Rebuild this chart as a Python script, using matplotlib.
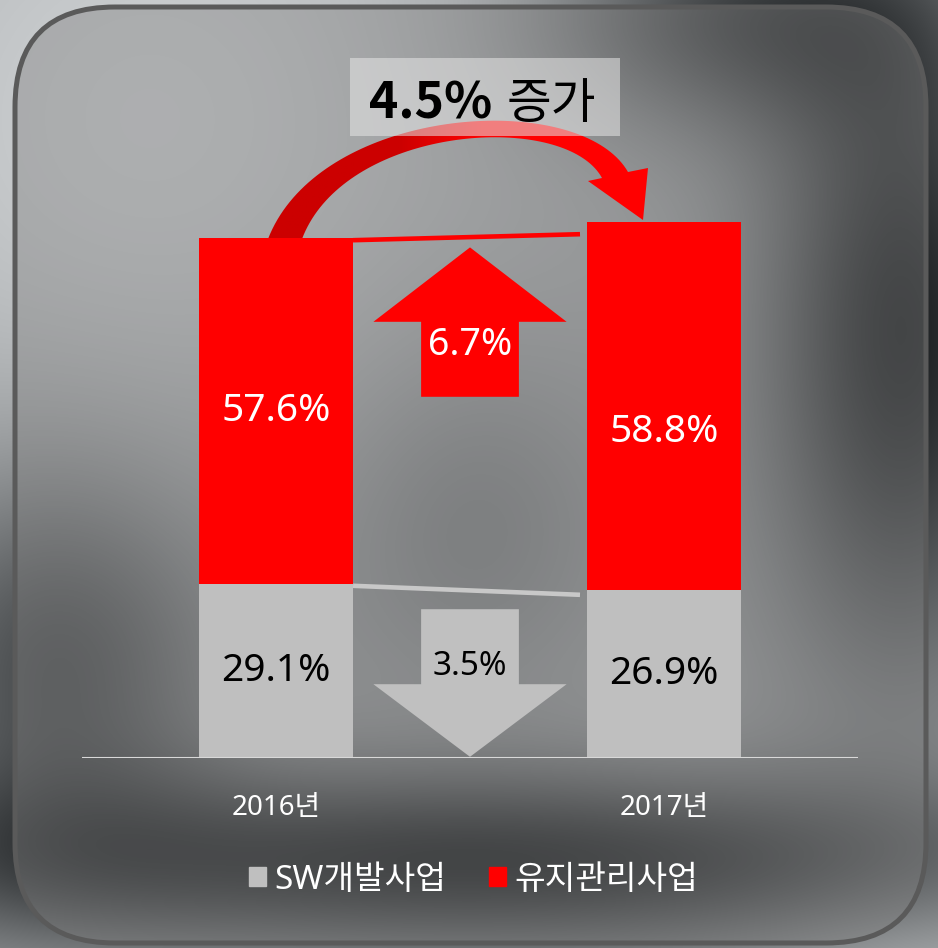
import numpy as np
import matplotlib
matplotlib.use("Agg")
import matplotlib.pyplot as plt
from matplotlib.patches import FancyBboxPatch, Patch, PathPatch, Polygon, Rectangle
from matplotlib.path import Path

plt.rcParams["font.family"] = ["Noto Sans", "Noto Sans CJK KR", "DejaVu Sans"]

# data
years = ["2016년", "2017년"]
series_names = ["SW개발사업", "유지관리사업"]
sw_share = [29.1, 26.9]      # labelled share, SW개발사업
mt_share = [57.6, 58.8]      # labelled share, 유지관리사업
sw_height = [29.0, 28.0]     # bar heights as drawn in the picture
mt_height = [57.6, 61.4]
sw_change = 3.5              # 감소
mt_change = 6.7              # 증가
total_change = 4.5

GRAY = "#bfbfbf"
RED = "#ff0000"
W, H = 938, 948

fig = plt.figure(figsize=(W / 100, H / 100), dpi=100)

# ---- blurred photo background, in pixel coordinates ----
bg = fig.add_axes([0, 0, 1, 1])
bg.set_xlim(0, W)
bg.set_ylim(H, 0)
bg.axis("off")

yy, xx = np.mgrid[0:H, 0:W].astype(float)


def blob(cx, cy, sx, sy, amp):
    return amp * np.exp(-((xx - cx) ** 2 / (2 * sx ** 2) + (yy - cy) ** 2 / (2 * sy ** 2)))


tone = (150
        + blob(150, 120, 260, 260, 25)
        + blob(900, 330, 100, 240, -80)
        + blob(740, 20, 140, 80, -55)
        + blob(470, 860, 430, 65, -80)
        + blob(60, 660, 120, 140, -55)
        + blob(470, 520, 110, 130, -25)
        + blob(930, 930, 120, 110, 15))
under = np.clip((tone - 0.4 * 128) / 0.6, 0, 255)
rgb = np.clip(np.stack([under - 3, under, under + 2], axis=-1) / 255, 0, 1)
bg.imshow(rgb, extent=(0, W, H, 0), aspect="auto", interpolation="bilinear", zorder=0)
bg.add_patch(FancyBboxPatch((15, 7), 911, 936, boxstyle="round,pad=0,rounding_size=100",
                            fc=(0.5, 0.5, 0.5, 0.4), ec="#5a5a5a", lw=3.6, zorder=1))


# curved arrow from 2016 to 2017
def bezier(p0, p1, p2, p3, n=80):
    t = np.linspace(0, 1, n)[:, None]
    p0, p1, p2, p3 = map(np.asarray, (p0, p1, p2, p3))
    return ((1 - t) ** 3) * p0 + 3 * ((1 - t) ** 2) * t * p1 + 3 * (1 - t) * t ** 2 * p2 + t ** 3 * p3


outer = bezier((268, 239), (320, 105), (580, 88), (628, 172))
inner = bezier((302, 239), (345, 125), (565, 110), (602, 178))
head = np.array([(648, 168), (643, 220), (588, 181)])
verts = np.vstack([outer, head, inner[::-1], outer[:1]])
codes = [Path.MOVETO] + [Path.LINETO] * (len(verts) - 2) + [Path.CLOSEPOLY]
arc = PathPatch(Path(verts, codes), fc="none", ec="none", zorder=2)
bg.add_patch(arc)
gx = np.linspace(260, 660, 256)
shade = np.interp(gx, [400, 480], [0.80, 1.0])
grad = np.zeros((1, 256, 3))
grad[0, :, 0] = shade
gimg = bg.imshow(grad, extent=(260, 660, 250, 80), aspect="auto", zorder=2)
gimg.set_clip_path(arc)

bg.add_patch(Rectangle((350, 58), 270, 78, fc="#e6e6e6", alpha=0.55, ec="none", zorder=3))
bg.text(492, 118, f"{total_change}%", family="Noto Sans CJK KR", fontsize=36, fontweight="bold",
        ha="right", va="baseline", zorder=4)
bg.text(507, 118, "증가", family="Noto Sans CJK KR", fontsize=35, ha="left", va="baseline", zorder=4)

# ---- the bar chart ----
ax = fig.add_axes([82 / W, (H - 758) / H, 776 / W, 700 / H])
ax.set_xlim(-0.5, 1.5)
ax.set_ylim(0, 700 / 6)
ax.patch.set_alpha(0)
for s in ax.spines.values():
    s.set_visible(False)

x = np.arange(len(years))
bw = 0.397
ax.bar(x, sw_height, bw, color=GRAY, zorder=3)
ax.bar(x, mt_height, bw, bottom=sw_height, color=RED, zorder=3)
ax.axhline(0, color="#d9d9d9", lw=1.5, zorder=4)

tops = [s + m for s, m in zip(sw_height, mt_height)]
gap = 0.018
ax.plot([x[0] + bw / 2, x[1] - bw / 2 - gap], [tops[0] - 0.3, tops[0] + 0.7],
        color=RED, lw=3.3, solid_capstyle="butt", zorder=3)
ax.plot([x[0] + bw / 2, x[1] - bw / 2 - gap], [sw_height[0] - 0.3, sw_height[1] - 0.8],
        color="#c8c8c8", lw=3.3, solid_capstyle="butt", zorder=3)

red_label_nudge = [0.0, -4.4]
for i in range(len(years)):
    ax.text(x[i], sw_height[i] / 2, f"{sw_share[i]}%", fontsize=28, color="black",
            ha="center", va="center", zorder=5)
    ax.text(x[i], sw_height[i] + mt_height[i] / 2 + red_label_nudge[i], f"{mt_share[i]}%",
            fontsize=28, color="white", ha="center", va="center", zorder=5)

# up / down change arrows between the bars
cx = (x[0] + x[1]) / 2
hw, sh = 0.249, 0.126
up = [(cx - sh, 60.2), (cx + sh, 60.2), (cx + sh, 72.7), (cx + hw, 72.7),
      (cx, 85.1), (cx - hw, 72.7), (cx - sh, 72.7)]
down = [(cx - sh, 24.8), (cx + sh, 24.8), (cx + sh, 12.3), (cx + hw, 12.3),
        (cx, 0.2), (cx - hw, 12.3), (cx - sh, 12.3)]
ax.add_patch(Polygon(up, closed=True, fc=RED, ec="none", zorder=3))
ax.add_patch(Polygon(down, closed=True, fc="#c0c0c0", ec="none", zorder=3))
ax.text(cx, 68.9, f"{mt_change}%", fontsize=27, color="white", ha="center", va="center", zorder=5)
ax.text(cx, 15.2, f"{sw_change}%", fontsize=24, color="black", ha="center", va="center", zorder=5)

ax.set_xticks(x, years)
ax.set_yticks([])
ax.tick_params(axis="x", length=0, pad=26, labelcolor="white", labelsize=20)

fig.legend(handles=[Patch(color=GRAY), Patch(color=RED)], labels=series_names,
           loc="center", bbox_to_anchor=(473.5 / W, (H - 880) / H), ncol=2, frameon=False,
           fontsize=24, labelcolor="white", handlelength=0.5, handleheight=0.5,
           handletextpad=0.25, columnspacing=1.3, borderpad=0)

fig.savefig("out.png", dpi=100)
